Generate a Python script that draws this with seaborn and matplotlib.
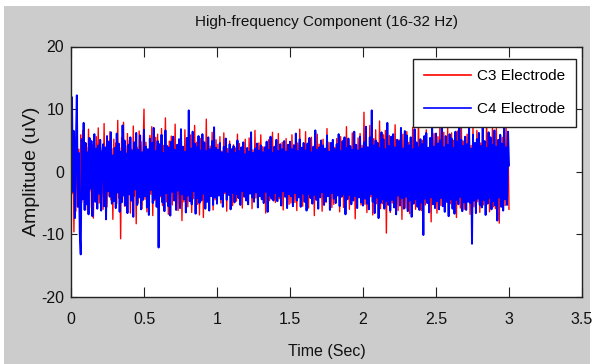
import numpy as np
import pandas as pd
import matplotlib
matplotlib.use("Agg")
import matplotlib.pyplot as plt
from matplotlib.patches import Rectangle
import seaborn as sns

fs = 150
c3 = [
    9.9, -3.5, 5.4, -9.6, 4.2, -6.3, 7.1, -4.0, 3.6, -8.1, 5.9, -4.9, 6.6, -3.8, 4.5,
    -6.1, 3.9, -4.4, 6.8, -3.2, 5.1, -5.7, 4.3, -7.4, 3.5, -4.6, 5.6, -3.6, 7.0, -5.0,
    4.0, -5.3, 3.4, -6.0, 7.7, -4.1, 3.3, -5.6, 4.9, -3.9, 6.4, -4.5, 3.7, -7.6, 5.2,
    -3.4, 4.6, -5.1, 8.2, -4.2, 3.8, -10.7, 5.5, -3.5, 7.9, -5.5, 4.1, -4.3, 6.1, -3.7,
    5.0, -6.6, 3.6, -4.7, 7.3, -3.9, 4.4, -8.3, 3.9, -5.0, 6.5, -3.8, 4.8, -5.9, 3.4,
    10.0, -4.4, 4.7, -6.4, 3.5, -5.2, 5.8, -3.6, 7.2, -7.0, 4.0, -4.6, 5.5, -3.9, 6.0,
    -5.8, 3.7, -4.0, 6.9, -5.4, 4.2, -3.7, 8.6, -4.8, 3.6, -6.8, 4.9, -3.5, 5.7, -5.3,
    4.3, -3.9, 7.6, -4.5, 3.8, -6.2, 5.0, -3.4, 4.6, -7.8, 3.5, -4.8, 6.7, -4.1, 3.9,
    -5.6, 4.8, -3.6, 5.9, -6.5, 3.7, -4.3, 7.4, -3.8, 4.7, -5.2, 3.3, -6.9, 5.3, -4.0,
    3.6, -7.3, 4.5, -3.7, 8.4, -4.6, 3.9, -5.4, 4.1, -3.6, 6.3, -6.1, 3.8, -4.5, 5.1,
    -4.2, 4.4, -3.4, 5.6, -5.0, 3.3, -4.0, 6.2, -3.5, 4.0, -6.3, 3.7, -3.2, 4.9, -4.5,
    3.4, -5.4, 4.3, -3.6, 3.8, -4.7, 6.0, -3.3, 4.5, -3.9, 3.2, -5.8, 4.1, -3.7, 5.2,
    -3.8, 3.6, -4.4, 5.4, -3.1, 4.2, -5.9, 3.5, -3.8, 6.6, -4.2, 3.3, -4.9, 4.6, -3.4,
    5.9, -3.7, 4.0, -4.1, 3.6, -6.6, 4.4, -3.5, 5.1, -4.6, 3.4, -3.9, 6.3, -4.4, 3.5,
    -4.9, 3.9, -3.6, 6.1, -4.3, 3.2, -4.6, 4.7, -6.1, 3.6, -3.7, 5.3, -4.0, 3.8, -5.2,
    3.7, -5.0, 5.9, -3.8, 4.3, -4.9, 3.5, -6.2, 4.6, -3.6, 6.8, -4.3, 3.9, -5.5, 4.1,
    -3.6, 6.4, -4.6, 3.8, -5.8, 4.2, -3.9, 5.5, -4.4, 3.4, -7.0, 4.5, -3.7, 6.0, -4.8,
    4.4, -3.8, 3.5, -6.3, 5.2, -4.1, 3.6, -4.9, 6.9, -3.5, 4.7, -5.1, 3.3, -5.7, 4.8,
    -5.2, 3.9, -4.5, 5.3, -3.7, 4.1, -6.4, 5.6, -3.4, 4.3, -5.7, 3.6, -4.2, 7.2, -3.9,
    4.9, -6.0, 3.4, -4.4, 6.2, -3.8, 4.6, -7.5, 3.9, -4.7, 5.4, -3.6, 6.1, -5.3, 4.2,
    -4.6, 9.5, -5.2, 4.3, -6.5, 3.9, -5.6, 7.4, -4.0, 4.8, -6.9, 5.3, -3.8, 6.7, -5.1,
    4.7, -4.5, 8.1, -5.9, 3.6, -5.1, 5.9, -4.3, 6.6, -9.8, 4.4, -4.2, 5.8, -6.5, 3.8,
    -5.0, 5.4, -4.1, 7.5, -5.6, 4.0, -6.2, 5.1, -4.6, 4.4, -7.6, 6.0, -3.9, 5.2, -5.8,
    6.4, -4.3, 4.7, -6.7, 3.9, -5.4, 7.1, -4.2, 5.3, -6.0, 3.8, -4.7, 8.9, -5.1, 4.1,
    -6.2, 5.0, -4.4, 4.2, -5.3, 6.7, -4.8, 3.9, -5.7, 4.6, -8.0, 5.8, -4.0, 6.1, -5.5,
    4.3, -6.6, 5.6, -4.1, 7.7, -5.4, 4.0, -4.9, 6.3, -5.9, 4.5, -4.4, 7.0, -6.3, 3.9,
    -5.1, 6.2, -4.0, 5.0, -5.5, 4.3, -7.3, 6.5, -4.3, 4.0, -5.8, 8.2, -4.5, 4.9, -6.0,
    4.5, -5.2, 6.0, -4.6, 5.1, -6.8, 4.2, -4.3, 7.3, -5.6, 4.0, -5.0, 6.6, -4.8, 5.7,
    -6.5, 4.6, -4.2, 6.8, -5.3, 4.4, -5.0, 8.6, -4.7, 3.9, -6.4, 5.2, -4.1, 7.4, -5.6,
    4.0, -5.9, 6.9, -4.5, 4.8, -8.2, 3.7, -4.6, 5.5, -6.1, 4.2, -5.4, 7.2, -4.3, 5.0,
    -6.0,
]
c4 = [
    0.8, 11.9, -3.2, 6.5, -7.4, 4.1, 12.2, -5.6, 3.0, -9.8, -13.2, 5.2, -4.4, 7.8, -6.1,
    4.6, -5.2, 3.1, -6.8, 5.4, -2.7, 4.9, -7.1, 2.3, 6.0, -4.8, 3.7, -5.9, 4.2, -3.5,
    5.1, -6.2, 2.8, 4.4, -5.5, 3.9, -7.6, 5.7, -3.1, 4.8, -4.0, 6.3, -5.1, 2.6, -4.7,
    3.8, -5.8, 6.1, -3.3, 4.5, -6.4, 3.2, -4.9, 7.4, -3.8, 5.0, -5.4, 2.9, -6.6, 4.3,
    -3.6, 5.5, -4.6, 3.4, -7.2, 4.7, -2.8, 6.2, -5.3, 3.5, -4.1, 5.8, -6.0, 3.1, -4.5,
    6.7, -3.9, 4.0, -5.7, 3.6, -6.9, 5.3, -2.9, 4.6, -5.0, 7.0, -4.3, 3.3, -5.6, 4.9,
    -12.1, 4.4, -3.7, 5.9, -4.9, 3.0, -6.3, 6.6, -3.4, 4.1, -5.5, 3.8, -7.0, 4.8, -3.2,
    5.6, -4.6, 3.5, -6.1, 4.3, -3.0, 5.2, -5.8, 6.8, -3.6, 4.0, -4.4, 3.2, -6.5, 5.4,
    -3.8, 9.8, -4.7, 3.7, -5.2, 6.4, -3.1, 4.5, -6.7, 3.9, -4.2, 5.7, -5.0, 3.4, -4.6,
    6.0, -3.5, 4.7, -5.9, 3.3, -4.8, 5.5, -6.2, 3.6, -3.9, 4.9, -5.3, 7.1, -4.1, 3.8,
    -5.1, 3.5, -3.8, 4.6, -4.4, 3.1, -5.6, 4.0, -3.2, 5.3, -4.5, 2.9, -3.7, 4.4, -6.0,
    3.6, -3.4, 4.1, -4.9, 3.0, -3.6, 5.0, -4.2, 3.3, -5.3, 3.9, -3.1, 4.7, -4.0, 2.8,
    -4.6, 3.8, -5.2, 3.2, -3.5, 6.3, -4.1, 3.0, -4.8, 3.7, -3.3, 4.5, -5.7, 3.4, -3.9,
    4.2, -4.4, 3.1, -5.0, 3.9, -3.2, 4.8, -6.4, 3.5, -3.8, 5.6, -4.3, 3.0, -4.6, 4.0,
    -3.4, 5.1, -4.7, 3.3, -3.9, 4.4, -5.4, 3.6, -3.1, 4.9, -4.0, 3.2, -5.8, 4.3, -3.6,
    4.8, -3.9, 3.6, -5.5, 4.2, -3.4, 6.1, -4.6, 3.3, -4.1, 5.2, -5.6, 3.8, -3.5, 4.6,
    -4.8, 3.4, -6.2, 4.5, -3.6, 5.4, -4.2, 3.1, -5.1, 4.0, -3.7, 6.6, -4.5, 3.5, -5.9,
    3.9, -4.1, 5.0, -3.3, 4.2, -5.3, 3.7, -4.7, 5.8, -3.9, 3.2, -6.1, 4.6, -3.4, 5.1,
    -4.3, 3.6, -5.0, 4.4, -3.8, 6.0, -5.5, 3.3, -4.0, 4.9, -3.6, 5.5, -6.8, 3.8, -4.4,
    5.3, -3.7, 4.1, -5.2, 3.5, -4.6, 6.4, -3.9, 4.3, -5.8, 3.4, -4.1, 5.6, -4.9, 3.7,
    -5.4, 4.7, -4.3, 7.2, -5.1, 3.9, -6.0, 5.5, -3.6, 9.8, -4.8, 4.2, -6.6, 5.0, -4.1,
    4.6, -7.4, 3.8, -5.0, 6.3, -4.4, 5.2, -5.9, 3.6, -4.7, 7.8, -5.3, 4.1, -6.2, 5.6,
    -4.5, 6.0, -5.7, 3.9, -6.8, 5.1, -3.8, 4.9, -5.4, 7.0, -4.2, 3.7, -5.9, 6.5, -4.0,
    5.8, -6.3, 4.2, -4.6, 5.5, -7.2, 3.6, -5.1, 6.8, -4.4, 4.7, -5.6, 3.9, -6.1, 5.2,
    -4.9, 4.4, -10.1, 5.7, -4.3, 6.2, -5.0, 3.8, -6.5, 5.4, -4.1, 7.5, -5.2, 4.0, -5.8,
    6.1, -4.7, 4.5, -6.0, 5.0, -4.2, 8.3, -5.5, 3.9, -6.4, 5.7, -4.8, 4.3, -7.1, 6.0,
    -4.4, 5.3, -5.9, 3.8, -6.7, 6.4, -4.5, 4.8, -5.2, 7.3, -4.0, 5.1, -6.3, 4.1, -4.9,
    5.6, -6.1, 4.4, -4.8, 6.9, -5.0, 3.7, -11.5, 5.9, -4.6, 4.6, -6.6, 5.2, -4.3, 6.2,
    -5.3, 4.1, -5.7, 7.7, -4.5, 4.9, -6.9, 3.8, -5.1, 6.3, -4.2, 5.5, -6.0, 4.3, -4.7,
    6.6, -5.4, 4.0, -7.8, 5.1, -4.1, 5.9, -5.6, 4.5, -6.2, 7.0, -4.4, 3.9, -5.3, 6.4,
    1.0,
]
series_names = ["C3 Electrode", "C4 Electrode"]
series_colors = ["#ff0000", "#0000ff"]
x_ticks = [0, 0.5, 1, 1.5, 2, 2.5, 3, 3.5]
x_tick_labels = ["0", "0.5", "1", "1.5", "2", "2.5", "3", "3.5"]
y_ticks = [-20, -10, 0, 10, 20]
y_tick_labels = ["-20", "-10", "0", "10", "20"]

t = np.arange(len(c3)) / fs
df = pd.concat([
    pd.DataFrame({"Time": t, "Amp": c3, "Signal": series_names[0]}),
    pd.DataFrame({"Time": t, "Amp": c4, "Signal": series_names[1]}),
], ignore_index=True)

plt.rcParams["font.family"] = ["Liberation Sans", "DejaVu Sans"]

W, H = 595, 364
fig = plt.figure(figsize=(W / 100, H / 100), dpi=100)
fig.patch.set_facecolor("white")
fig.add_artist(Rectangle((4 / W, 0), (590 - 4) / W, (H - 6) / H,
                         transform=fig.transFigure, facecolor="#cccccc",
                         edgecolor="none", zorder=-10))

ax = fig.add_axes([71 / W, 1 - 297 / H, (582 - 71) / W, (297 - 46.5) / H])
ax.set_facecolor("white")

sns.lineplot(data=df, x="Time", y="Amp", hue="Signal", hue_order=series_names,
             palette=dict(zip(series_names, series_colors)), estimator=None,
             sort=False, linewidth=1.0, ax=ax, legend=True)
# C4 trace drawn a little heavier so it forms the solid core, as in the picture
ax.get_lines()[1].set_linewidth(1.4)

ax.set_xlim(0, 3.5)
ax.set_ylim(-20, 20)
ax.set_xticks(x_ticks)
ax.set_xticklabels(x_tick_labels)
ax.set_yticks(y_ticks)
ax.set_yticklabels(y_tick_labels)
ax.tick_params(axis="x", direction="in", length=7, width=0.8, color="#222222",
               top=True, bottom=True, labelsize=11.5, pad=10.5, labelcolor="#111111")
ax.tick_params(axis="y", direction="in", length=4.5, width=0.8, color="#222222",
               left=True, right=True, labelsize=11.5, pad=5, labelcolor="#111111")
for s in ax.spines.values():
    s.set_color("#222222")
    s.set_linewidth(1.0)

ax.set_title("High-frequency Component (16-32 Hz)", fontsize=11, pad=15, color="#111111")
ax.set_xlabel("Time (Sec)", fontsize=11.5, labelpad=12.5, color="#111111")
ax.set_ylabel("Amplitude (uV)", fontsize=14, labelpad=1, color="#111111")

leg = ax.legend(loc="upper right", bbox_to_anchor=(0.988, 0.952), fontsize=11,
                frameon=True, fancybox=False, edgecolor="#222222", framealpha=1,
                handlelength=3.1, handletextpad=0.4, borderpad=0.7,
                labelspacing=1.25, borderaxespad=0)
leg.get_frame().set_linewidth(1.0)
for line in leg.get_lines():
    line.set_linewidth(1.2)

fig.savefig("out.png", dpi=100, facecolor=fig.get_facecolor())
